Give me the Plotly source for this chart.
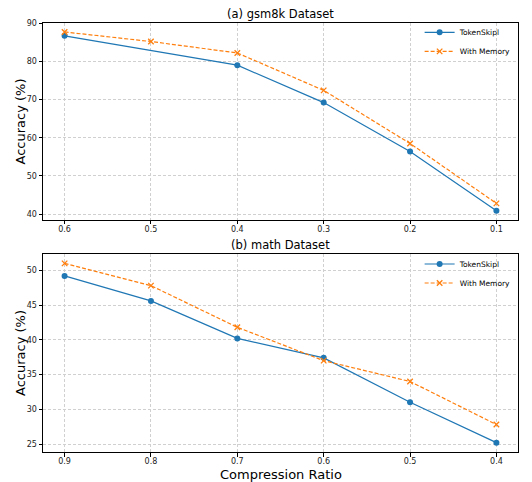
import plotly.graph_objects as go
from plotly.subplots import make_subplots

# Panel (a) gsm8k
gsm_ratios = ["0.6", "0.5", "0.4", "0.3", "0.2", "0.1"]
gsm_tokenskip = [86.7, None, 79.0, 69.2, 56.4, 40.9]
gsm_memory = [87.7, 85.2, 82.2, 72.4, 58.5, 42.8]

# Panel (b) math
math_ratios = ["0.9", "0.8", "0.7", "0.6", "0.5", "0.4"]
math_tokenskip = [49.2, 45.6, 40.2, 37.4, 31.0, 25.2]
math_memory = [51.0, 47.8, 41.8, 37.0, 34.0, 27.8]

BLUE = "#1f77b4"
ORANGE = "#ff7f0e"
FONT = "DejaVu Sans"

fig = make_subplots(rows=2, cols=1)

def add_panel(row, ratios, ts, mem, legend):
    fig.add_trace(go.Scatter(x=ratios, y=ts, mode="lines+markers", name="TokenSkipl",
                             connectgaps=True,
                             line=dict(color=BLUE, width=1.2),
                             marker=dict(symbol="circle", size=6, color=BLUE),
                             legend=legend), row=row, col=1)
    fig.add_trace(go.Scatter(x=ratios, y=mem, mode="lines+markers", name="With Memory",
                             line=dict(color=ORANGE, width=1.2, dash="4px,2px"),
                             marker=dict(symbol="x-thin", size=5.5, color=ORANGE,
                                         line=dict(color=ORANGE, width=1.3)),
                             legend=legend), row=row, col=1)

add_panel(1, gsm_ratios, gsm_tokenskip, gsm_memory, "legend")
add_panel(2, math_ratios, math_tokenskip, math_memory, "legend2")

axis_common = dict(showline=True, linecolor="black", linewidth=1, mirror=True,
                   ticks="outside", ticklen=3.5, tickcolor="black", tickwidth=0.8,
                   showgrid=True, gridcolor="#d0d0d0", griddash="3px,2px", gridwidth=0.8,
                   zeroline=False, automargin=False,
                   tickfont=dict(family=FONT, size=8, color="#222"))

fig.update_xaxes(**axis_common, type="category", range=[-0.25, 5.25], ticklabelstandoff=-2)
fig.update_yaxes(**axis_common)

TOP_DOM = [0.5408, 1.0]
BOT_DOM = [0.0, 0.4615]

# The page body adds an 8px offset, so the figure is sized 524x474.
fig.update_layout(
    width=524, height=474,
    margin=dict(l=35, r=14, t=15, b=30, autoexpand=False),
    paper_bgcolor="white", plot_bgcolor="white",
    font=dict(family=FONT, color="black"),
    xaxis=dict(domain=[0, 1]),
    yaxis=dict(domain=TOP_DOM, range=[38.45, 90.05], tickvals=[40, 50, 60, 70, 80, 90]),
    xaxis2=dict(domain=[0, 1]),
    yaxis2=dict(domain=BOT_DOM, range=[23.85, 52.35], tickvals=[25, 30, 35, 40, 45, 50]),
    legend=dict(x=0.995, y=1.012, xanchor="right", yanchor="top", bgcolor="rgba(0,0,0,0)",
                font=dict(family=FONT, size=7.5), tracegroupgap=0, itemwidth=30),
    legend2=dict(x=0.995, y=0.472, xanchor="right", yanchor="top", bgcolor="rgba(0,0,0,0)",
                 font=dict(family=FONT, size=7.5), tracegroupgap=0, itemwidth=30),
    annotations=[
        dict(text="(a) gsm8k Dataset", x=0.5, y=TOP_DOM[1], xref="paper", yref="paper",
             xanchor="center", yanchor="bottom", yshift=0, showarrow=False,
             font=dict(family=FONT, size=11.5, color="black")),
        dict(text="(b) math Dataset", x=0.5, y=BOT_DOM[1], xref="paper", yref="paper",
             xanchor="center", yanchor="bottom", yshift=0, showarrow=False,
             font=dict(family=FONT, size=11.5, color="black")),
        dict(text="Accuracy (%)", x=0, y=sum(TOP_DOM) / 2, xref="paper", yref="paper",
             xanchor="center", yanchor="middle", xshift=-23, textangle=-90, showarrow=False,
             font=dict(family=FONT, size=13, color="black")),
        dict(text="Accuracy (%)", x=0, y=sum(BOT_DOM) / 2, xref="paper", yref="paper",
             xanchor="center", yanchor="middle", xshift=-23, textangle=-90, showarrow=False,
             font=dict(family=FONT, size=13, color="black")),
        dict(text="Compression Ratio", x=0.5, y=0, xref="paper", yref="paper",
             xanchor="center", yanchor="top", yshift=-13, showarrow=False,
             font=dict(family=FONT, size=13, color="black")),
    ],
)

fig.write_html("out.html")
